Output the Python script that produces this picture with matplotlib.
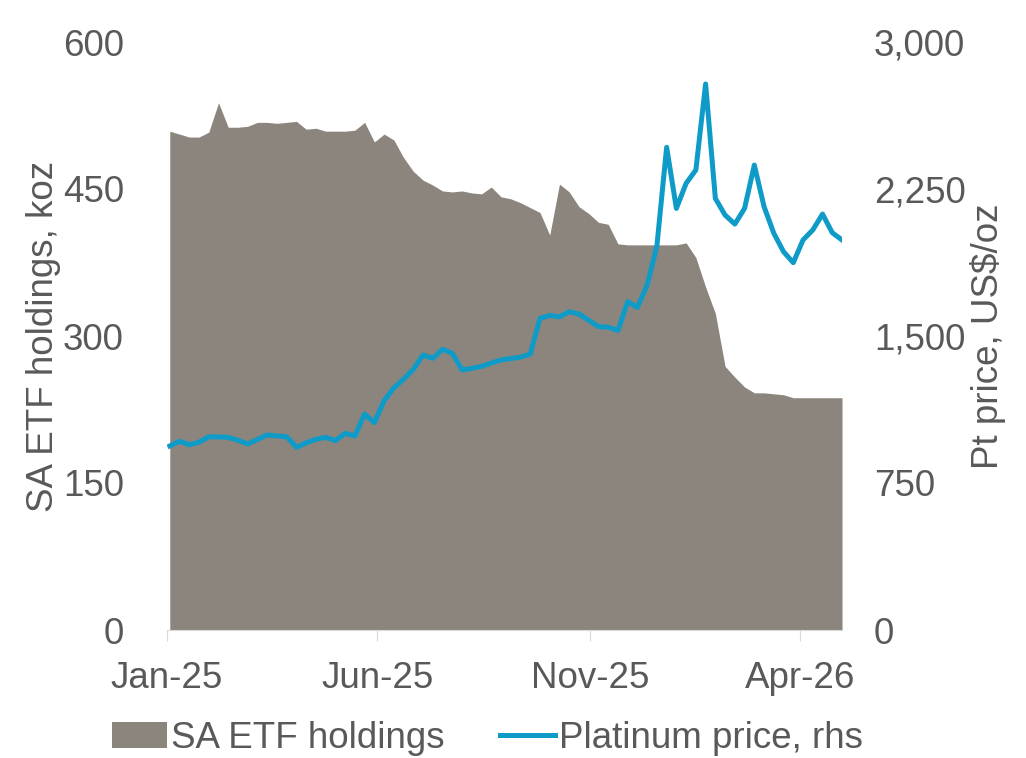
import matplotlib.pyplot as plt
import matplotlib.dates as mdates
import numpy as np
import pandas as pd
from matplotlib.patches import Patch
from matplotlib.lines import Line2D

plt.rcParams['font.family'] = ['Liberation Sans', 'DejaVu Sans']

# weekly observations, Jan-25 to end Apr-26
dates = pd.date_range('2025-01-03', periods=70, freq='7D')

# SA ETF holdings, koz (lhs)
holdings = [509, 506, 503, 503, 508, 538, 513, 513, 514, 518,
            518, 517, 518, 519, 511, 512, 509, 509, 509, 510,
            518, 498, 506, 500, 482, 468, 459, 454, 448, 447,
            448, 446, 445, 452, 442, 440, 436, 431, 426, 403,
            455, 447, 432, 425, 416, 414, 394, 393, 393, 393,
            393, 393, 393, 395, 380, 350, 323, 269, 258, 248,
            242, 242, 241, 240, 237, 237, 237, 237, 237, 237]

# Platinum price, US$/oz (rhs)
price = [939, 963, 945, 958, 986, 985, 983, 968, 949, 972,
         995, 990, 986, 932, 955, 973, 983, 966, 1003, 990,
         1102, 1058, 1170, 1235, 1280, 1330, 1403, 1386, 1432, 1412,
         1327, 1335, 1345, 1362, 1378, 1385, 1392, 1408, 1590, 1605,
         1598, 1624, 1612, 1580, 1548, 1545, 1528, 1675, 1646, 1760,
         1960, 2463, 2151, 2279, 2347, 2786, 2202, 2117, 2071, 2151,
         2372, 2160, 2024, 1930, 1874, 1990, 2041, 2122, 2027, 1990]

xticks = ['2025-01-01', '2025-06-01', '2025-11-01', '2026-04-01']

grey_txt = '#595959'
fill_col = '#8b857d'
line_col = '#0f9bc8'
fs = 26.5

fig = plt.figure(figsize=(10.26, 7.58), dpi=100)
ax = fig.add_axes([167/1026, 128/758, 675/1026, 588/758])
ax2 = ax.twinx()

ax.fill_between(dates, holdings, 0, color=fill_col, linewidth=0)
ax2.plot(dates, price, color=line_col, linewidth=3.6, solid_joinstyle='round')

ax.set_xlim(pd.Timestamp('2025-01-01'), pd.Timestamp('2026-05-01'))
ax.set_ylim(0, 600)
ax2.set_ylim(0, 3000)
ax.set_yticks([0, 150, 300, 450, 600])
ax2.set_yticks([0, 750, 1500, 2250, 3000])
ax2.set_yticklabels(['0', '750', '1,500', '2,250', '3,000'])

ax.set_xticks([pd.Timestamp(d) for d in xticks])
ax.xaxis.set_major_formatter(mdates.DateFormatter('%b-%y'))

for a in (ax, ax2):
    for s in a.spines.values():
        s.set_visible(False)
    a.tick_params(axis='y', length=0, labelsize=fs, colors=grey_txt)
ax.spines['bottom'].set_visible(True)
ax.spines['bottom'].set_color('#d9d9d9')
ax.tick_params(axis='x', length=8, color='#d9d9d9', labelsize=fs,
               labelcolor=grey_txt, pad=14)
ax.tick_params(axis='y', pad=31)
ax2.tick_params(axis='y', pad=23)

ax.set_ylabel('SA ETF holdings, koz', fontsize=fs, color=grey_txt, labelpad=1)
ax2.set_ylabel('Pt price, US$/oz', fontsize=fs, color=grey_txt, labelpad=3)

handles = [Patch(facecolor=fill_col, edgecolor='none'),
           Line2D([], [], color=line_col, linewidth=3.6)]
fig.legend(handles, ['SA ETF holdings', 'Platinum price, rhs'],
           loc='center', bbox_to_anchor=(0.475, 0.026), ncol=2, frameon=False,
           fontsize=fs, labelcolor=grey_txt, handlelength=1.5,
           handletextpad=0.1, columnspacing=1.5, borderpad=0)

fig.savefig('out.png', dpi=100)
